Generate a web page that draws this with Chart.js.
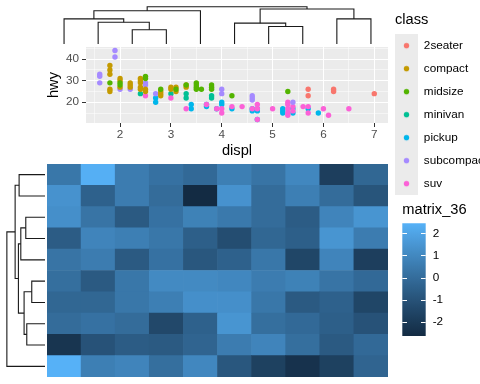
<!DOCTYPE html>
<html>
<head>
<meta charset="utf-8">
<script src="https://cdn.jsdelivr.net/npm/chart.js@4/dist/chart.umd.min.js"></script>
<style>
  html, body { margin: 0; padding: 0; background: #fff; }
  body { width: 480px; height: 384px; position: relative; overflow: hidden; }
  canvas { position: absolute; }
</style>
</head>
<body>
<canvas id="scatter" width="485" height="210" style="left:0;top:0;width:485px;height:210px"></canvas>
<canvas id="topTree" width="341" height="44" style="left:47px;top:0;width:341px;height:44px"></canvas>
<canvas id="leftTree" width="45" height="213" style="left:0;top:164px;width:45px;height:213px"></canvas>
<canvas id="heat" width="341" height="213" style="left:47px;top:164px;width:341px;height:213px"></canvas>
<canvas id="colorbar" width="85" height="155" style="left:395px;top:195px;width:85px;height:155px"></canvas>
<script>
// ---- scatter: hwy against displ, one list of [displ, hwy] per class ----
const classes = ['2seater', 'compact', 'midsize', 'minivan', 'pickup', 'subcompact', 'suv'];
const classColors = ['#F8766D', '#C49A00', '#53B400', '#00C094', '#00B6EB', '#A58AFF', '#FB61D7'];

const twoSeater = [[5.7, 26], [5.7, 23], [6.2, 26], [6.2, 25], [7.0, 24]];
const compact = [[1.8, 37], [1.8, 35], [1.8, 33], [1.8, 26], [1.8, 25],
  [2.0, 31], [2.0, 30], [2.0, 27], [2.2, 29], [2.2, 28], [2.2, 27],
  [2.4, 31], [2.4, 30], [2.4, 29], [2.4, 27], [2.4, 26], [2.5, 26], [2.5, 25],
  [2.8, 25], [2.8, 24], [2.8, 23], [3.0, 27], [3.0, 26], [3.1, 27], [3.1, 25],
  [3.3, 28], [3.3, 27]];
const midsize = [[1.8, 29], [2.0, 29], [2.0, 28], [2.5, 32], [2.5, 31], [2.8, 26],
  [3.1, 26], [3.3, 28], [3.5, 29], [3.5, 28], [3.5, 27], [3.5, 26], [3.6, 26],
  [3.8, 28], [3.8, 27], [3.8, 26], [4.2, 23], [5.3, 25]];
const minivan = [[2.4, 24], [3.0, 24], [3.3, 24], [3.3, 22], [3.8, 23], [3.8, 22]];
const pickup = [[2.7, 22], [2.7, 20], [3.4, 19], [3.4, 17], [3.7, 19], [3.7, 18], [3.9, 17],
  [4.0, 20], [4.0, 19], [4.2, 17], [4.6, 17], [4.6, 16], [4.7, 17], [4.7, 16], [4.7, 12],
  [5.2, 17], [5.2, 16], [5.2, 15], [5.4, 17], [5.4, 15], [5.7, 17], [5.9, 15]];
const subcompact = [[1.6, 33], [1.6, 32], [1.6, 29], [1.9, 44], [1.9, 41], [2.0, 26], [2.2, 26],
  [2.5, 29], [2.5, 28], [2.7, 24], [4.0, 26], [4.0, 24], [4.6, 23], [4.6, 22], [4.6, 21], [5.4, 20]];
const suv = [[2.5, 23], [3.0, 22], [3.3, 17], [3.7, 19], [3.9, 17], [4.0, 17], [4.0, 15], [4.2, 18],
  [4.4, 18], [4.6, 17], [4.7, 19], [4.7, 17], [4.7, 12], [5.0, 17], [5.3, 20], [5.3, 19], [5.3, 17],
  [5.3, 15], [5.3, 14], [5.4, 18], [5.4, 16], [5.6, 18], [5.7, 18], [5.7, 15], [6.0, 17],
  [6.1, 14], [6.5, 17]];

const displTicks = [2, 3, 4, 5, 6, 7];
const hwyTicks = [20, 30, 40];

// ---- heatmap matrix_36, rows top to bottom ----
const matrix36 = [
  [0.4, 2.4, 0.6, 0.2, -0.1, 0.7, 0.3, 1.0, -1.8, -0.2],
  [1.4, -0.4, 0.6, 0.0, -2.62, 1.4, 0.0, 0.7, 0.0, -0.9],
  [1.3, 0.3, -0.7, 0.2, 0.8, 0.5, 0.0, -0.6, 0.9, 1.5],
  [-0.6, 0.9, 0.7, 0.4, -0.5, -1.2, -0.2, -0.5, 1.5, 0.6],
  [0.3, 0.6, -0.7, 0.2, -0.8, -0.4, 0.4, -1.5, 0.9, -1.8],
  [0.1, -0.7, 0.4, 1.1, 1.1, 1.0, 0.6, 0.8, 0.3, -0.1],
  [-0.2, -0.2, 0.4, 0.7, 1.3, 1.3, 0.4, -0.7, -0.4, -1.5],
  [0.0, 0.2, 0.0, -1.4, -0.4, 1.5, 0.1, -0.1, -0.5, -1.0],
  [-2.2, -1.0, -0.6, -0.7, -0.3, 0.6, 0.9, 0.1, -0.7, -0.1],
  [2.48, 0.7, 0.9, 0.1, 1.0, -0.8, -1.7, -2.3, -1.7, -0.3]
];
const colorbarTicks = [-2, -1, 0, 1, 2];

// dendrograms, hclust style: negative = leaf, positive = earlier merge, then height
const colMerges = [[-3, -4, 1.43], [-2, 1, 2.2], [-1, 2, 2.53], [3, -5, 3.36], [-7, -8, 1.76],
  [-6, 5, 2.1], [-9, -10, 2.53], [6, 7, 3.53], [4, 8, 3.76]];
const rowMerges = [[-6, -7, 1.33], [-8, -9, 1.83], [-3, -4, 1.93], [1, 2, 2.1], [3, -5, 2.43],
  [-1, -2, 2.6], [5, 4, 2.67], [6, 7, 3.0], [8, -10, 3.83]];

Chart.defaults.font.family = "'Liberation Sans', Arial, sans-serif";
Chart.defaults.animation = false;

// ggplot-like low/high gradient, interpolated in CIELAB
const lowColor = '#132B43', highColor = '#56B1F7';
function toLab(hex) {
  const lin = c => c <= 0.04045 ? c / 12.92 : Math.pow((c + 0.055) / 1.055, 2.4);
  const [r, g, b] = [1, 3, 5].map(i => lin(parseInt(hex.slice(i, i + 2), 16) / 255));
  const X = (0.4124564 * r + 0.3575761 * g + 0.1804375 * b) / 0.95047;
  const Y = 0.2126729 * r + 0.7151522 * g + 0.0721750 * b;
  const Z = (0.0193339 * r + 0.1191920 * g + 0.9503041 * b) / 1.08883;
  const f = t => t > 216 / 24389 ? Math.cbrt(t) : (24389 / 27 * t + 16) / 116;
  return [116 * f(Y) - 16, 500 * (f(X) - f(Y)), 200 * (f(Y) - f(Z))];
}
function fromLab([L, A, B]) {
  const fy = (L + 16) / 116, fx = fy + A / 500, fz = fy - B / 200;
  const inv = t => t * t * t > 216 / 24389 ? t * t * t : (116 * t - 16) / (24389 / 27);
  const X = 0.95047 * inv(fx), Y = inv(fy), Z = 1.08883 * inv(fz);
  const rgb = [3.2404542 * X - 1.5371385 * Y - 0.4985314 * Z,
    -0.9692660 * X + 1.8760108 * Y + 0.0415560 * Z,
    0.0556434 * X - 0.2040259 * Y + 1.0572252 * Z];
  const gam = c => c <= 0.0031308 ? 12.92 * c : 1.055 * Math.pow(c, 1 / 2.4) - 0.055;
  return 'rgb(' + rgb.map(c => Math.round(Math.min(1, Math.max(0, gam(c))) * 255)).join(',') + ')';
}
const labLow = toLab(lowColor), labHigh = toLab(highColor);
const allValues = matrix36.flat();
const vMin = Math.min(...allValues), vMax = Math.max(...allValues);
function fillColor(v) {
  const t = (v - vMin) / (vMax - vMin);
  return fromLab(labLow.map((l, i) => l + (labHigh[i] - l) * t));
}

// ---- scatter ----
function range(pts, k) {
  const v = pts.map(p => p[k]);
  const lo = Math.min(...v), hi = Math.max(...v), pad = (hi - lo) * 0.05;
  return [lo - pad, hi + pad];
}
function withMinors(majors, lo, hi) {
  const step = majors[1] - majors[0];
  const out = [];
  for (let v = majors[0] - step / 2; v <= hi; v += step / 2) if (v >= lo) out.push(v);
  return out;
}
const classPoints = [twoSeater, compact, midsize, minivan, pickup, subcompact, suv];
const allPoints = classPoints.flat();
const [xMin, xMax] = range(allPoints, 0);
const [yMin, yMax] = range(allPoints, 1);
const drawOrder = [6, 1, 0, 5, 4, 2, 3]; // lower number is drawn on top
const dotRadius = 2.7;

function legendKey(color) {
  const c = document.createElement('canvas');
  c.width = 23; c.height = 23;
  const g = c.getContext('2d');
  g.fillStyle = '#EBEBEB';
  g.fillRect(0, 0, 23, 23);
  g.fillStyle = color;
  g.beginPath();
  g.arc(11.5, 11.5, dotRadius, 0, Math.PI * 2);
  g.fill();
  return c;
}

const panelBg = {
  id: 'panelBg',
  beforeDraw(chart) {
    const { ctx, chartArea: a } = chart;
    ctx.save();
    ctx.fillStyle = '#EBEBEB';
    ctx.fillRect(a.left, a.top, a.right - a.left, a.bottom - a.top);
    ctx.restore();
  }
};

function axisGrid(majors) {
  const major = c => c.tick && majors.includes(c.tick.value);
  return {
    color: '#FFFFFF',
    lineWidth: c => major(c) ? 1 : 0.5,
    tickColor: c => major(c) ? '#333333' : 'rgba(0,0,0,0)',
    tickLength: 4,
    tickWidth: 1
  };
}
const tickFont = { size: 11.73 };
const titleFont = { size: 14.67 };

new Chart(document.getElementById('scatter'), {
  type: 'scatter',
  data: {
    datasets: classes.map((name, i) => ({
      label: name,
      data: classPoints[i].map(([x, y]) => ({ x, y })),
      backgroundColor: classColors[i],
      borderWidth: 0,
      pointRadius: dotRadius,
      pointHoverRadius: dotRadius,
      order: drawOrder[i]
    }))
  },
  options: {
    responsive: false,
    devicePixelRatio: 1,
    layout: { padding: 0 },
    scales: {
      x: {
        type: 'linear', min: xMin, max: xMax,
        afterBuildTicks: s => { s.ticks = withMinors(displTicks, xMin, xMax).map(v => ({ value: v })); },
        afterFit: s => { s.height = 87; },
        border: { display: false },
        grid: axisGrid(displTicks),
        ticks: { callback: v => displTicks.includes(v) ? String(v) : '', color: '#4D4D4D', font: tickFont,
          padding: 1, autoSkip: false, maxRotation: 0, minRotation: 0 },
        title: { display: true, text: 'displ', color: '#000', font: titleFont, padding: { top: 0, bottom: 50.2 } }
      },
      y: {
        type: 'linear', min: yMin, max: yMax,
        afterBuildTicks: s => { s.ticks = withMinors(hwyTicks, yMin, yMax).map(v => ({ value: v })); },
        afterFit: s => { s.width = 86; },
        border: { display: false },
        grid: axisGrid(hwyTicks),
        ticks: { callback: v => hwyTicks.includes(v) ? String(v) : '', color: '#4D4D4D', font: tickFont,
          padding: 3, autoSkip: false },
        title: { display: true, text: 'hwy', color: '#000', font: titleFont, padding: { top: 45.2, bottom: 0 } }
      },
      x2: { type: 'linear', position: 'top', grid: { display: false }, border: { display: false },
        ticks: { display: false }, afterFit: s => { s.height = 47; } },
      y2: { type: 'linear', position: 'right', grid: { display: false }, border: { display: false },
        ticks: { display: false }, afterFit: s => { s.width = 7; } }
    },
    plugins: {
      tooltip: { enabled: false },
      legend: {
        position: 'right',
        align: 'start',
        maxWidth: 90,
        title: { display: true, text: 'class', position: 'start', color: '#000', font: titleFont,
          padding: { top: 12.7, bottom: 9.5 } },
        labels: {
          usePointStyle: true,
          pointStyleWidth: 23,
          padding: 0,
          color: '#000',
          font: { size: 11.73, lineHeight: '23px' },
          generateLabels: () => classes.map((name, i) => ({
            text: [name], fillStyle: classColors[i], strokeStyle: classColors[i], lineWidth: 0,
            pointStyle: legendKey(classColors[i]), fontColor: '#000', hidden: false, datasetIndex: i
          }))
        }
      }
    }
  },
  plugins: [panelBg]
});

// ---- dendrograms ----
function treeLinks(merges) {
  const nodes = [];
  const at = ref => ref < 0 ? { pos: -ref, h: 0 } : nodes[ref - 1];
  return merges.map(([a, b, h]) => {
    const A = at(a), B = at(b);
    nodes.push({ pos: (A.pos + B.pos) / 2, h });
    return [[A.pos, A.h], [A.pos, h], [B.pos, h], [B.pos, B.h]];
  });
}
function treeChart(id, merges, sideways) {
  const hTop = Math.max(...merges.map(m => m[2])) * 1.18;
  const n = merges.length + 1;
  const leafAxis = { display: false, min: 0.5, max: n + 0.5, reverse: sideways };
  const heightAxis = { display: false, min: 0, max: hTop, reverse: sideways };
  new Chart(document.getElementById(id), {
    type: 'scatter',
    data: {
      datasets: treeLinks(merges).map(link => ({
        data: link.map(([p, h]) => sideways ? { x: h, y: p } : { x: p, y: h }),
        showLine: true, borderColor: '#1a1a1a', borderWidth: 1.1, pointRadius: 0, fill: false
      }))
    },
    options: {
      responsive: false, devicePixelRatio: 1, layout: { padding: 0 },
      plugins: { legend: { display: false }, tooltip: { enabled: false } },
      scales: sideways ? { x: heightAxis, y: leafAxis } : { x: leafAxis, y: heightAxis }
    }
  });
}
treeChart('topTree', colMerges, false);
treeChart('leftTree', rowMerges, true);

// ---- heatmap: one stacked bar series per row, coloured by value ----
const rowsBottomUp = matrix36.slice().reverse();
new Chart(document.getElementById('heat'), {
  type: 'bar',
  data: {
    labels: matrix36[0].map((_, j) => 'col' + (j + 1)),
    datasets: rowsBottomUp.map((row, i) => ({
      label: 'row' + (rowsBottomUp.length - i),
      data: row.map(() => 1),
      backgroundColor: row.map(fillColor),
      borderWidth: 0,
      barPercentage: 1,
      categoryPercentage: 1
    }))
  },
  options: {
    responsive: false, devicePixelRatio: 1, layout: { padding: 0 },
    plugins: { legend: { display: false }, tooltip: { enabled: false } },
    scales: {
      x: { display: false, stacked: true },
      y: { display: false, stacked: true, min: 0, max: rowsBottomUp.length }
    }
  }
});

// ---- colour bar ----
new Chart(document.getElementById('colorbar'), {
  type: 'bar',
  data: {
    labels: [''],
    datasets: [{
      data: [[vMin, vMax]],
      backgroundColor: c => {
        const a = c.chart.chartArea;
        if (!a) return lowColor;
        const g = c.chart.ctx.createLinearGradient(0, a.bottom, 0, a.top);
        for (let k = 0; k <= 20; k++) g.addColorStop(k / 20, fillColor(vMin + (vMax - vMin) * k / 20));
        return g;
      },
      borderWidth: 0,
      barPercentage: 1,
      categoryPercentage: 1
    }]
  },
  options: {
    responsive: false, devicePixelRatio: 1,
    layout: { padding: { left: 7.3, top: 0, right: 0, bottom: 11 } },
    plugins: {
      legend: { display: false }, tooltip: { enabled: false },
      title: { display: true, text: 'matrix_36', align: 'start', color: '#000',
        font: { size: 14.67, weight: 'normal' }, padding: { top: 6.2, bottom: 4.5 } }
    },
    scales: {
      x: { display: false },
      y: {
        position: 'right', min: vMin, max: vMax,
        afterBuildTicks: s => { s.ticks = colorbarTicks.map(v => ({ value: v })); },
        afterFit: s => { s.width = 54.3; },
        grid: { color: '#FFFFFF', lineWidth: 1, drawTicks: false, z: 1 },
        border: { display: false, dash: [4.7, 14] },
        ticks: { color: '#000', font: tickFont, padding: 7 }
      }
    }
  }
});
</script>
</body>
</html>
